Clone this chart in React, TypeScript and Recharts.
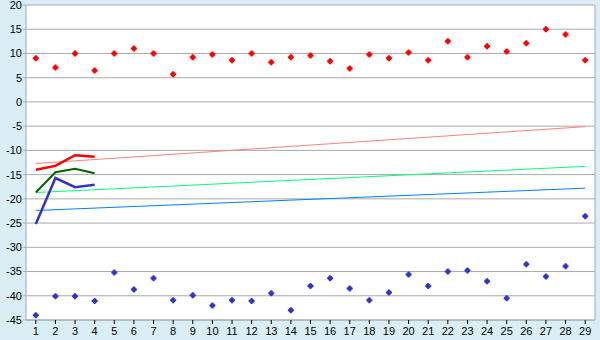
import React from "react"
import { ComposedChart, Line, Scatter, XAxis, YAxis, CartesianGrid, ReferenceLine } from "recharts"

const categories = [1, 2, 3, 4, 5, 6, 7, 8, 9, 10, 11, 12, 13, 14, 15, 16, 17, 18, 19, 20, 21, 22, 23, 24, 25, 26, 27, 28, 29]
const yTicks = [20, 15, 10, 5, 0, -5, -10, -15, -20, -25, -30, -35, -40, -45]

const upperPoints = [9.0, 7.1, 10.0, 6.5, 10.0, 11.0, 10.0, 5.7, 9.2, 9.8, 8.6, 10.0, 8.2, 9.2, 9.6, 8.4, 6.9, 9.8, 9.0, 10.2, 8.6, 12.5, 9.2, 11.5, 10.4, 12.1, 15.0, 13.9, 8.6]
const lowerPoints = [-44.0, -40.1, -40.1, -41.1, -35.2, -38.7, -36.4, -40.9, -39.9, -42.0, -40.9, -41.1, -39.5, -43.0, -38.0, -36.4, -38.5, -40.9, -39.3, -35.6, -38.0, -35.0, -34.8, -37.0, -40.5, -33.5, -36.0, -33.9, -23.6]

const shortCats = [1, 2, 3, 4]
const redShort = [-14.0, -13.2, -11.0, -11.3]
const greenShort = [-18.7, -14.5, -13.8, -14.7]
const blueShort = [-25.2, -15.7, -17.6, -17.1]

const trendCats = [1, 29]
const redTrend = [-12.7, -5.1]
const greenTrend = [-18.7, -13.3]
const blueTrend = [-22.4, -17.8]

const pts = (xs: number[], ys: number[]) => xs.map((x, i) => ({ x, y: ys[i] }))

const font = { fontSize: 11, fill: "#000", fontFamily: "Liberation Sans" }
const grid = "#aaaaaa"

// small pixel-style diamond/plus marker
const Marker = (color: string) => (props: any) => {
  const { cx, cy } = props
  const d = `M${cx - 1} ${cy - 3}h2v1h1v1h1v2h-1v1h-1v1h-2v-1h-1v-1h-1v-2h1v-1h1z`
  return <path d={d} fill={color} />
}

export default function App() {
  return (
    <div style={{ position: "absolute", left: 0, top: 0, width: 600, height: 340, background: "#d9eef5" }}>
      <ComposedChart width={600} height={340} margin={{ top: 5, right: 5, bottom: 0, left: 0 }}>
        <CartesianGrid vertical={false} stroke={grid} fill="#fff" />
        <XAxis
          type="number"
          dataKey="x"
          domain={[0.5, 29.5]}
          ticks={categories}
          interval={0}
          height={20}
          tick={font}
          tickSize={4}
          tickMargin={3}
          tickLine={{ stroke: "#000" }}
          axisLine={{ stroke: grid }}
          allowDataOverflow
        />
        <YAxis
          type="number"
          domain={[-45, 20]}
          ticks={yTicks}
          interval={0}
          width={26}
          tick={font}
          tickSize={3}
          tickMargin={1}
          tickLine={{ stroke: grid }}
          axisLine={{ stroke: grid }}
          allowDataOverflow
        />
        <ReferenceLine x={29.5} stroke={grid} />
        <Line data={pts(trendCats, redTrend)} dataKey="y" stroke="#ff8080" strokeWidth={1} dot={false} isAnimationActive={false} />
        <Line data={pts(trendCats, greenTrend)} dataKey="y" stroke="#00ff80" strokeWidth={1} dot={false} isAnimationActive={false} />
        <Line data={pts(trendCats, blueTrend)} dataKey="y" stroke="#0080ff" strokeWidth={1} dot={false} isAnimationActive={false} />
        <Line data={pts(shortCats, redShort)} dataKey="y" stroke="#ff0000" strokeWidth={2.5} dot={false} isAnimationActive={false} />
        <Line data={pts(shortCats, greenShort)} dataKey="y" stroke="#006400" strokeWidth={2} dot={false} isAnimationActive={false} />
        <Line data={pts(shortCats, blueShort)} dataKey="y" stroke="#3333cc" strokeWidth={2.5} dot={false} isAnimationActive={false} />
        <Scatter data={pts(categories, upperPoints)} dataKey="y" shape={Marker("#ff0000")} isAnimationActive={false} />
        <Scatter data={pts(categories, lowerPoints)} dataKey="y" shape={Marker("#3333cc")} isAnimationActive={false} />
      </ComposedChart>
    </div>
  )
}
